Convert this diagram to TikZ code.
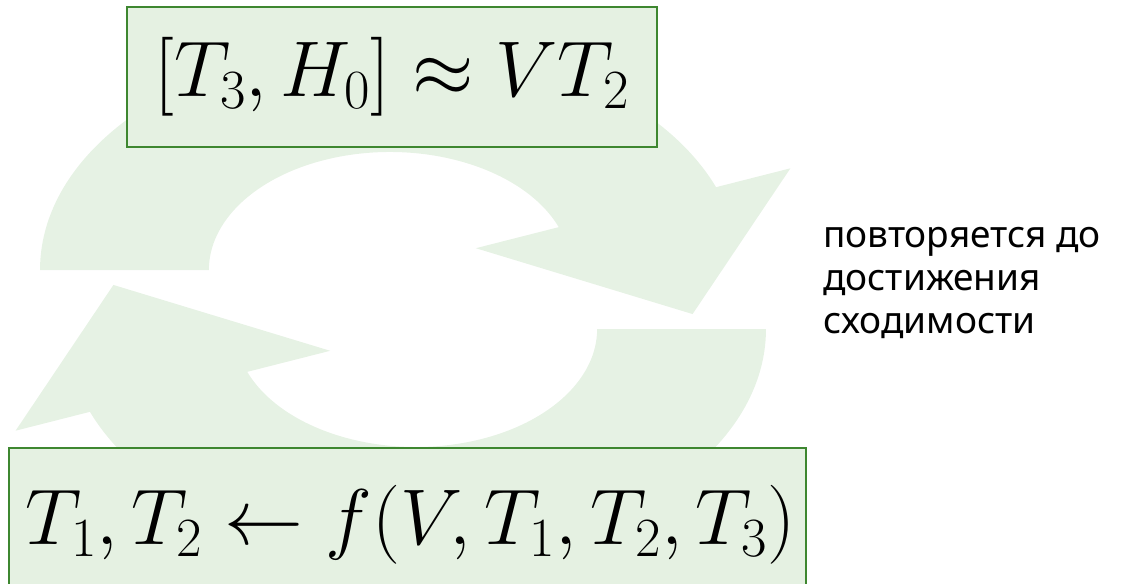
\RequirePackage{fix-cm}
\documentclass[tikz,border=0pt]{standalone}
\usepackage{fontspec}
\newfontfamily\notefont{Noto Sans}
\usetikzlibrary{positioning}
\definecolor{ringgreen}{RGB}{230,242,228}
\definecolor{boxfill}{RGB}{229,241,226}
\definecolor{boxline}{RGB}{62,135,48}

\begin{document}
\begin{tikzpicture}[
    x=1pt, y=-1pt,
    eqbox/.style={rectangle, draw=boxline, fill=boxfill, line width=1.5pt, inner sep=0pt, font=\fontsize{79}{94}\selectfont},
    ring/.style={fill=ringgreen},
    note/.style={font=\notefont\fontsize{37}{43}\selectfont, align=left, inner sep=0pt}
]
\useasboundingbox (0,0) rectangle (1123,583);
\clip (0,0) rectangle (1123,583);

% the two halves of the loop arrow
\foreach \cx/\cy/\rot in {390/270/0, 416/329/180}{
  \begin{scope}[shift={(\cx,\cy)}, xscale=1.535, yscale=-1, rotate=\rot]
    \fill[ring] (180:228) arc[start angle=180, end angle=21.3, radius=228]
      -- (21.3:280) -- (-12.6:202) -- (21.3:60) -- (21.3:118)
      arc[start angle=21.3, end angle=180, radius=118] -- cycle;
  \end{scope}
}

\node[eqbox, minimum width=530pt, minimum height=140pt] (commute) at (392,77) {$[T_3, H_0] \approx VT_2$};
\node[eqbox, minimum width=797pt, minimum height=154pt] (update) at (407.5,525) {\hspace*{6pt}$T_1, T_2 \leftarrow f(V, T_1, T_2, T_3)$};

\node[note, anchor=north west] (note) at (823,227) {повторяется до\\достижения\\сходимости};
\end{tikzpicture}
\end{document}
